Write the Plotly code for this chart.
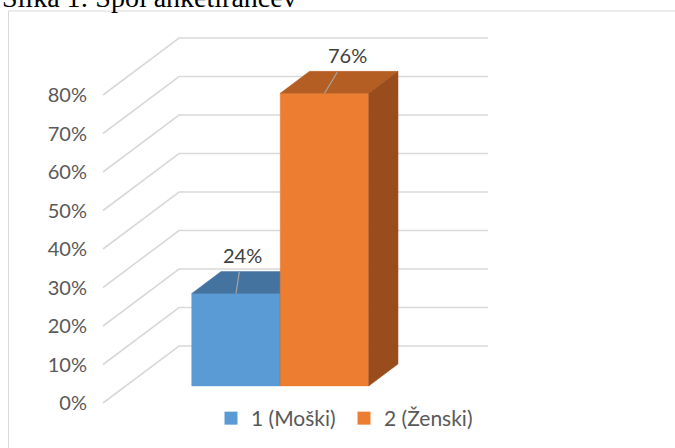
import plotly.graph_objects as go

# ---- data -------------------------------------------------------------
categories = ["1 (Moški)", "2 (Ženski)"]
values = [24, 76]                      # share of respondents, %
tick_values = [0, 10, 20, 30, 40, 50, 60, 70, 80]
tick_labels = [f"{t}%" for t in tick_values]

# ---- styling ----------------------------------------------------------
front_colors = ["#5B9BD5", "#ED7D31"]
top_colors = ["#44739F", "#B45E23"]
side_colors = ["#3A6590", "#9A4D1C"]
grid_color = "#D9D9D9"
label_offsets = [(6, -39), (23, -38)]  # data-label shift in px from bar top

# ---- pseudo-3D geometry (data units) ----------------------------------
W, H = 675, 448
M_L, M_R, M_T, M_B = 88, 0, 20, 0
PX_PER_X = 88.5          # one category slot
PX_PER_Y = 3.85          # one percentage point
ORIGIN_PX = (213.2, 403)  # x=0, y=0 on the front plane
DEPTH_PX = (76, -57)     # front plane -> back wall
DX = DEPTH_PX[0] / PX_PER_X
DY = -DEPTH_PX[1] / PX_PER_Y
BAR_FRONT, BAR_BACK = 0.30, 0.685
WALL_GAP = 0.745         # floor margin left/right of the bars


def proj(x, y, d):
    """Oblique projection of (x, value, depth) onto the 2D axes."""
    return x + d * DX, y + d * DY


x_range = [(M_L - ORIGIN_PX[0]) / PX_PER_X, (W - M_R - ORIGIN_PX[0]) / PX_PER_X]
y_range = [(ORIGIN_PX[1] - (H - M_B)) / PX_PER_Y, (ORIGIN_PX[1] - M_T) / PX_PER_Y]

fig = go.Figure()

# walls: diagonal gridlines on the side wall + horizontals on the back wall
x_left = -0.5 - WALL_GAP
x_right = len(values) - 0.5 + WALL_GAP
gx, gy = [], []
for t in tick_values:
    for x, d in [(x_left, 0), (x_left, 1), (x_right, 1)]:
        px, py = proj(x, t, d)
        gx.append(px)
        gy.append(py)
    gx.append(None)
    gy.append(None)
fig.add_trace(go.Scatter(x=gx, y=gy, mode="lines",
                         line=dict(color=grid_color, width=1.6),
                         hoverinfo="skip", showlegend=False))


def face(points, color):
    xs, ys = zip(*[proj(*p) for p in points])
    fig.add_trace(go.Scatter(x=list(xs) + [xs[0]], y=list(ys) + [ys[0]],
                             mode="lines", fill="toself", fillcolor=color,
                             line=dict(color=color, width=0.5),
                             hoverinfo="skip", showlegend=False))


# bars: front, top and right side faces
for i, v in enumerate(values):
    xl, xr = i - 0.5, i + 0.5
    f, b = BAR_FRONT, BAR_BACK
    face([(xl, 0, f), (xr, 0, f), (xr, v, f), (xl, v, f)], front_colors[i])
    face([(xl, v, f), (xr, v, f), (xr, v, b), (xl, v, b)], top_colors[i])
    face([(xr, 0, f), (xr, 0, b), (xr, v, b), (xr, v, f)], side_colors[i])

# legend entries
for name, c in zip(categories, front_colors):
    fig.add_trace(go.Scatter(x=[None], y=[None], mode="markers", name=name,
                             marker=dict(symbol="square", size=13, color=c)))

# data labels with leader lines
for i, v in enumerate(values):
    px, py = proj(i, v, BAR_FRONT)
    fig.add_annotation(x=px, y=py, xref="x", yref="y", text=f"{v}%",
                       showarrow=True, arrowhead=0, arrowwidth=1.2,
                       arrowcolor="#A6A6A6", ax=label_offsets[i][0],
                       ay=label_offsets[i][1], startstandoff=4,
                       font=dict(family="Lato", size=20, color="#404040"))

pw, ph = W - M_L - M_R, H - M_T - M_B
fx = lambda p: (p - M_L) / pw
fy = lambda p: (H - M_B - p) / ph

# caption above the chart frame
fig.add_annotation(text="Slika 1: Spol anketirancev", xref="paper", yref="paper",
                   x=fx(0), y=fy(15), xanchor="left", yanchor="bottom",
                   showarrow=False,
                   font=dict(family="Liberation Serif", size=28, color="#000000"))

# chart frame
fig.add_shape(type="line", xref="paper", yref="paper", x0=fx(8.5), x1=fx(8.5),
              y0=fy(11), y1=fy(H), line=dict(color="#D9D9D9", width=1))
fig.add_shape(type="line", xref="paper", yref="paper", x0=fx(8.5), x1=fx(W),
              y0=fy(11), y1=fy(11), line=dict(color="#D9D9D9", width=1))

fig.update_layout(
    width=W, height=H,
    margin=dict(l=M_L, r=M_R, t=M_T, b=M_B),
    paper_bgcolor="white", plot_bgcolor="white",
    font=dict(family="Lato", color="#595959"),
    xaxis=dict(range=x_range, visible=False),
    yaxis=dict(range=y_range, tickvals=tick_values, ticktext=tick_labels,
               showgrid=False, zeroline=False, showline=False, ticks="",
               tickfont=dict(family="Lato", size=20, color="#595959")),
    legend=dict(orientation="h", x=fx(211), y=fy(398), xanchor="left",
                yanchor="top", entrywidth=88, entrywidthmode="pixels",
                font=dict(family="Lato", size=21, color="#595959"),
                bgcolor="rgba(0,0,0,0)"),
    showlegend=True,
)

fig.write_html("out.html")
